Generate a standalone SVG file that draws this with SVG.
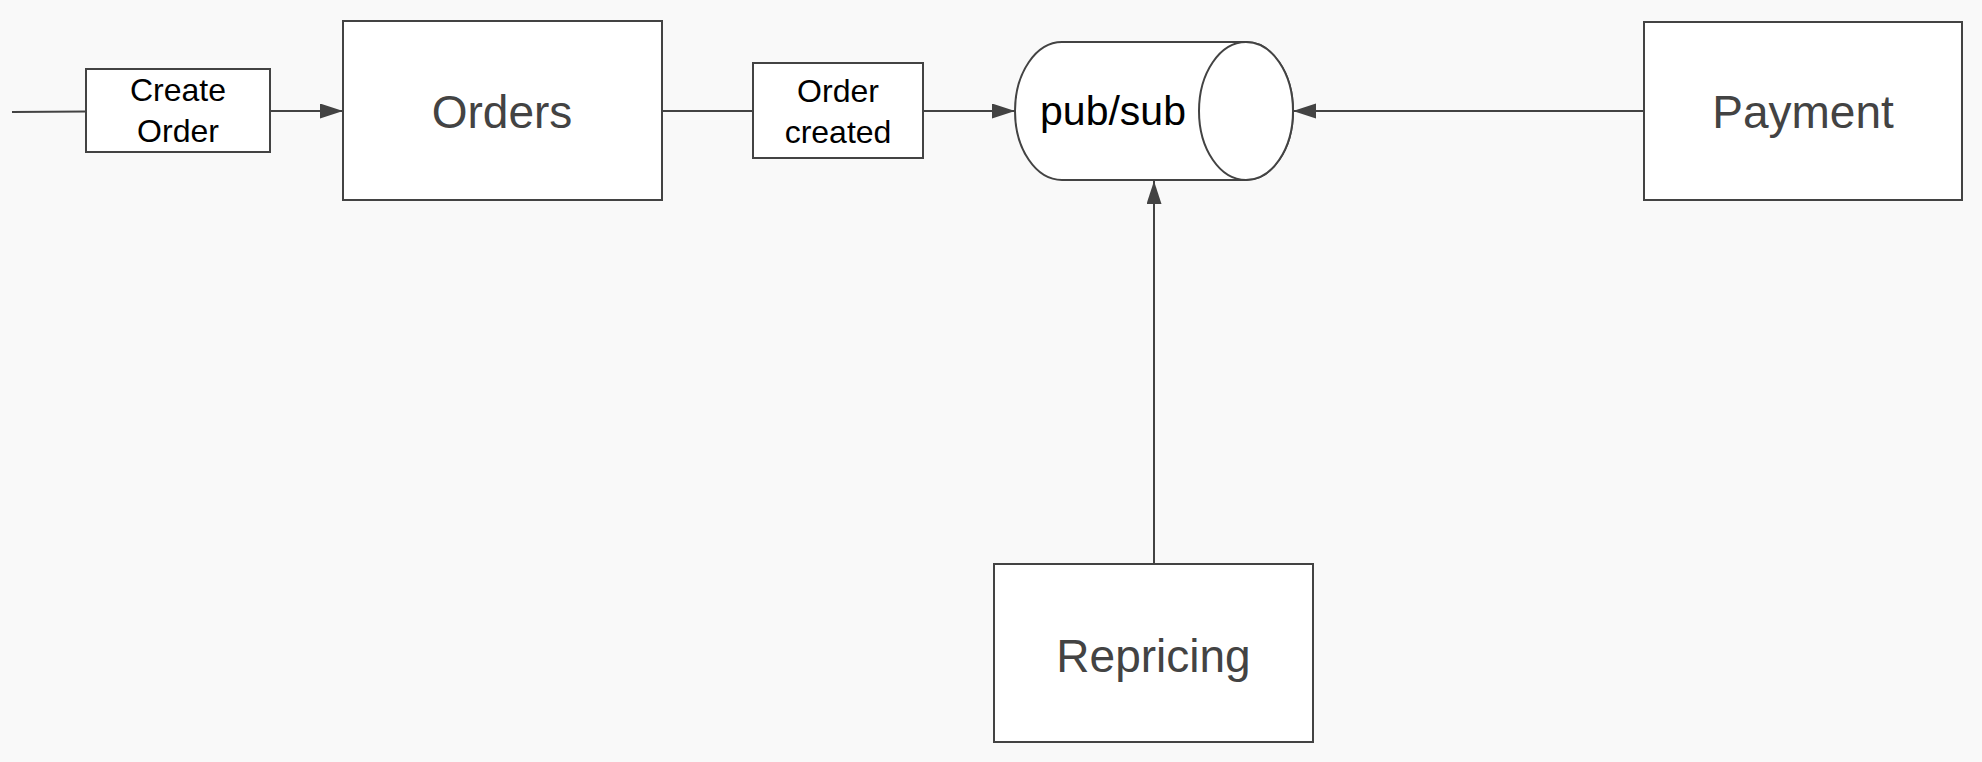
<svg xmlns="http://www.w3.org/2000/svg" width="1982" height="762" viewBox="0 0 1982 762">
<style>
.box{fill:#ffffff;stroke:#434343;stroke-width:2}
.conn{stroke:#434343;stroke-width:2;fill:none}
.big{font-family:"Liberation Sans",Arial,sans-serif;font-size:46px;fill:#434343;text-anchor:middle}
.small{font-family:"Liberation Sans",Arial,sans-serif;font-size:32px;fill:#000000;text-anchor:middle}
.mid{font-family:"Liberation Sans",Arial,sans-serif;font-size:41px;fill:#000000;text-anchor:middle}
</style>
<defs>
<marker id="arr" markerUnits="userSpaceOnUse" markerWidth="24" markerHeight="16" refX="23" refY="7.5" orient="auto">
<path d="M0,0 L23,7.5 L0,15 z" fill="#434343"/>
</marker>
</defs>
<rect width="1982" height="762" fill="#f9f9f9"/>
<g id="connectors">
<line class="conn" x1="12" y1="112" x2="86" y2="111.5"/>
<line class="conn" x1="270" y1="111" x2="343" y2="111" marker-end="url(#arr)"/>
<line class="conn" x1="662" y1="111" x2="753" y2="111"/>
<line class="conn" x1="923" y1="111" x2="1015" y2="111" marker-end="url(#arr)"/>
<line class="conn" x1="1644" y1="111" x2="1293" y2="111" marker-end="url(#arr)"/>
<line class="conn" x1="1154" y1="564" x2="1154" y2="181" marker-end="url(#arr)"/>
</g>
<g id="create-order">
<rect class="box" x="86" y="69" width="184" height="83"/>
<text class="small" x="178" y="101">Create</text>
<text class="small" x="178" y="142">Order</text>
</g>
<g id="orders">
<rect class="box" x="343" y="21" width="319" height="179"/>
<text class="big" x="502" y="128">Orders</text>
</g>
<g id="order-created">
<rect class="box" x="753" y="63" width="170" height="95"/>
<text class="small" x="838" y="102">Order</text>
<text class="small" x="838" y="143">created</text>
</g>
<g id="pubsub">
<path class="box" d="M1062,42 L1246,42 A47,69 0 0 1 1246,180 L1062,180 A47,69 0 0 1 1062,42 Z"/>
<ellipse class="box" cx="1246" cy="111" rx="47" ry="69"/>
<text class="mid" x="1113" y="125">pub/sub</text>
</g>
<g id="payment">
<rect class="box" x="1644" y="22" width="318" height="178"/>
<text class="big" x="1803" y="128">Payment</text>
</g>
<g id="repricing">
<rect class="box" x="994" y="564" width="319" height="178"/>
<text class="big" x="1153.5" y="672">Repricing</text>
</g>
</svg>
